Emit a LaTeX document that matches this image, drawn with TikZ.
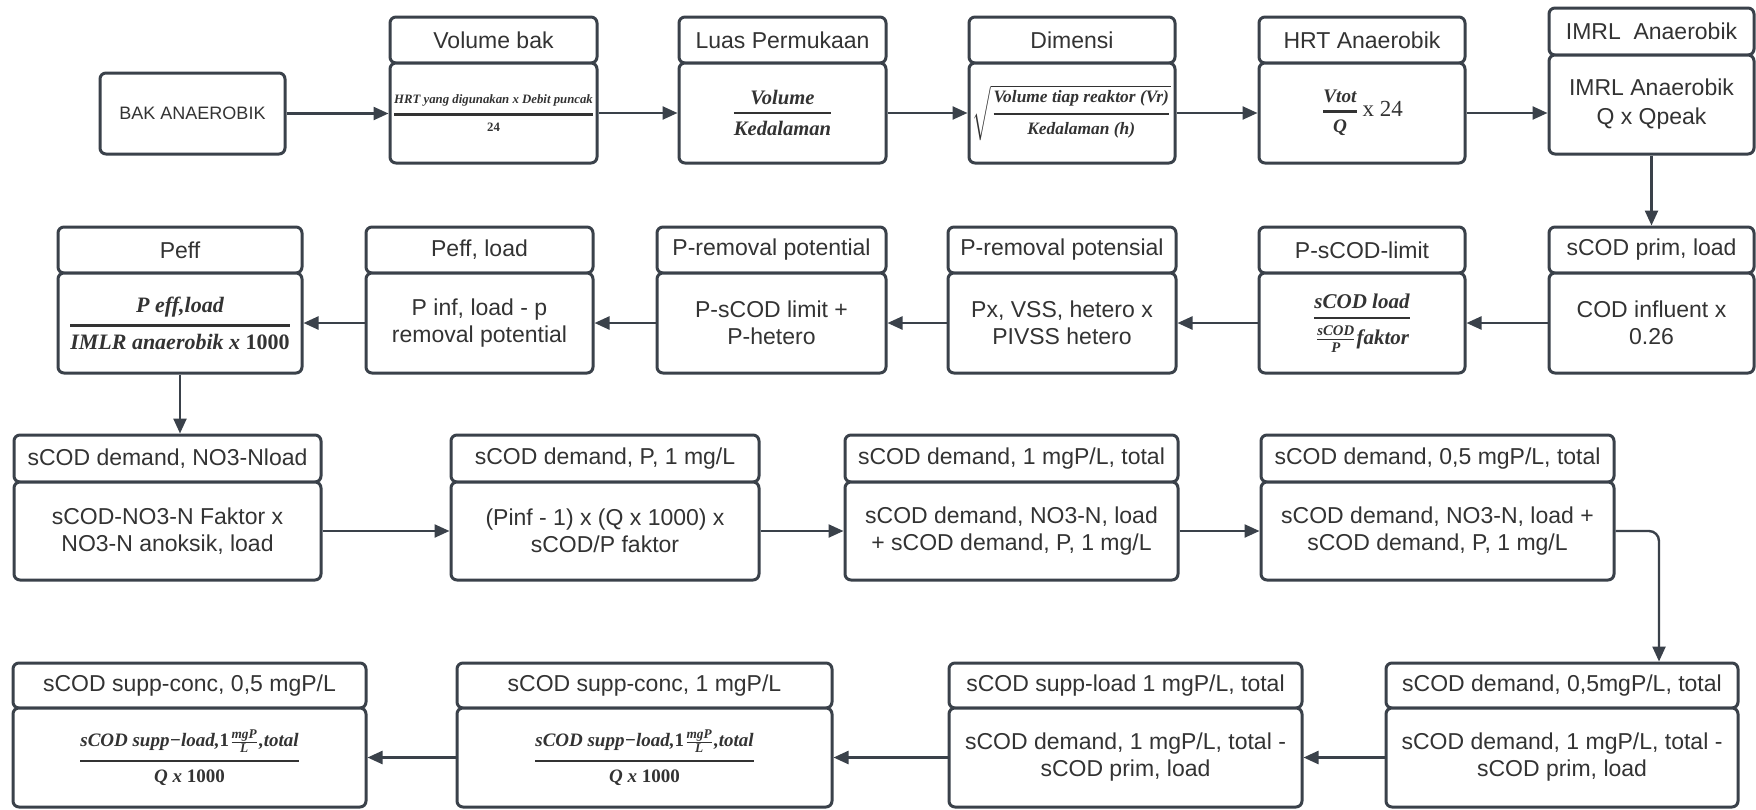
\documentclass[tikz,border=0pt]{standalone}
\usepackage{amsmath}
\usepackage{fontspec}
\setmainfont{Liberation Sans}
\newfontfamily\fmlfont{Liberation Serif}
\usetikzlibrary{arrows.meta}
\definecolor{ln}{HTML}{3A414A}
\definecolor{tx}{HTML}{333333}
\newcommand\fmi[1]{\text{\fmlfont\bfseries\itshape #1}}
\newcommand\fmu[1]{\text{\fmlfont\bfseries #1}}
\newcommand\myfrac[2]{\genfrac{}{}{1.2pt}{0}{#1}{#2}}
\tikzset{
  bx/.style={draw=ln, line width=1.5pt, rounded corners=3pt, fill=white, inner sep=0pt,
    align=center, text=tx, font=\fontsize{11.5}{13.5}\selectfont},
  arr/.style={draw=ln, line width=1.2pt, -{Triangle[length=7.5pt,width=6.5pt]}},
}
% name, xl, xr, yt, ym, yb, header, body  (pixel units, 1px = 0.5pt)
\newcommand\hbpair[8]{%
  \pgfmathsetmacro\bxw{(#3-#2)*0.5}%
  \pgfmathsetmacro\hdh{(#5-#4)*0.5}%
  \pgfmathsetmacro\bdh{(#6-#5)*0.5}%
  \node[bx, minimum width=\bxw pt, minimum height=\hdh pt] (#1h) at ({(#2+#3)/2},{(#4+#5)/2}) {#7};
  \node[bx, minimum width=\bxw pt, minimum height=\bdh pt] (#1b) at ({(#2+#3)/2},{(#5+#6)/2}) {#8};
}
\begin{document}
\begin{tikzpicture}[x=0.5pt,y=-0.5pt]
\useasboundingbox (0,0) rectangle (1756,809);
\fill[white] (0,0) rectangle (1756,809);
% Row 1
\node[bx, minimum width=92.5pt, minimum height=40.5pt, font=\fontsize{9}{11}\selectfont] (bak) at (192.5,113.5) {BAK ANAEROBIK};
\hbpair{vb}{390}{597}{17}{63}{163}{Volume bak}{{\fontsize{6.4}{8}\selectfont$\myfrac{\fmi{HRT yang digunakan x Debit puncak}}{\fmu{24}}$}}
\hbpair{lp}{679}{886}{17}{63}{163}{Luas Permukaan}{{\fontsize{10.3}{12}\selectfont$\myfrac{\fmi{Volume}}{\fmi{Kedalaman}}$}}
\hbpair{dm}{969}{1175}{17}{63}{163}{Dimensi}{{\fontsize{8.7}{10}\selectfont$\sqrt{\myfrac{\fmi{Volume tiap reaktor (Vr)}}{\fmi{Kedalaman (h)}}}$}}
\hbpair{hrt}{1259}{1465}{17}{63}{163}{HRT Anaerobik}{{\fontsize{9.6}{11}\selectfont$\myfrac{\fmi{Vtot}}{\fmi{Q}}$}\,{\fmlfont\fontsize{11.5}{13}\selectfont x 24}}
\hbpair{im}{1549}{1754}{8}{55}{154}{IMRL\ \ Anaerobik}{IMRL Anaerobik\\[1pt]Q x Qpeak}
% Row 2
\hbpair{pf}{58}{302}{227}{273}{373}{Peff}{{\fontsize{11}{13}\selectfont$\myfrac{\fmi{P eff,load}}{\fmi{IMLR anaerobik x }\fmu{1000}}$}}
\hbpair{pl}{366}{593}{227}{273}{373}{Peff, load}{P inf, load - p\\removal potential}
\hbpair{prl}{657}{886}{227}{273}{373}{P-removal potential}{P-sCOD limit +\\P-hetero}
\hbpair{prs}{948}{1176}{227}{273}{373}{P-removal potensial}{Px, VSS, hetero x\\PIVSS hetero}
\hbpair{ps}{1259}{1465}{227}{273}{373}{P-sCOD-limit}{{\fontsize{10.5}{12}\selectfont$\myfrac{\fmi{sCOD load}}{\frac{\fmi{sCOD}}{\fmi{P}}\fmi{faktor}}$}}
\hbpair{sp}{1549}{1754}{227}{273}{373}{sCOD prim, load}{COD influent x\\0.26}
% Row 3
\hbpair{na}{14}{321}{435}{482}{580}{sCOD demand, NO3-Nload}{sCOD-NO3-N Faktor x\\NO3-N anoksik, load}
\hbpair{np}{451}{759}{435}{482}{580}{sCOD demand, P, 1 mg/L}{(Pinf - 1) x (Q x 1000) x\\sCOD/P faktor}
\hbpair{da}{845}{1178}{435}{482}{580}{sCOD demand, 1 mgP/L, total}{sCOD demand, NO3-N, load\\+ sCOD demand, P, 1 mg/L}
\hbpair{db}{1261}{1614}{435}{482}{580}{sCOD demand, 0,5 mgP/L, total}{sCOD demand, NO3-N, load +\\sCOD demand, P, 1 mg/L}
% Row 4
\hbpair{ca}{13}{366}{663}{708}{807}{sCOD supp-conc, 0,5 mgP/L}{{\fontsize{9.5}{11}\selectfont$\myfrac{\fmi{sCOD supp−load,}\fmu{1}\frac{\fmi{mgP}}{\fmi{L}}\fmi{,total}}{\fmi{Q x }\fmu{1000}}$}}
\hbpair{cb}{457}{832}{663}{708}{807}{sCOD supp-conc, 1 mgP/L}{{\fontsize{9.5}{11}\selectfont$\myfrac{\fmi{sCOD supp−load,}\fmu{1}\frac{\fmi{mgP}}{\fmi{L}}\fmi{,total}}{\fmi{Q x }\fmu{1000}}$}}
\hbpair{sl}{949}{1302}{663}{708}{807}{sCOD supp-load 1 mgP/L, total}{sCOD demand, 1 mgP/L, total -\\sCOD prim, load}
\hbpair{ea}{1386}{1738}{663}{708}{807}{sCOD demand, 0,5mgP/L, total}{sCOD demand, 1 mgP/L, total -\\sCOD prim, load}
% Connectors row 1
\draw[arr] (bak.east) -- (bak.east -| vbb.west);
\draw[arr] (vbb.east) -- (lpb.west);
\draw[arr] (lpb.east) -- (dmb.west);
\draw[arr] (dmb.east) -- (hrtb.west);
\draw[arr] (hrtb.east) -- (hrtb.east -| imb.west);
\draw[arr] (imb.south) -- (sph.north);
% Row 2
\draw[arr] (spb.west) -- (psb.east);
\draw[arr] (psb.west) -- (prsb.east);
\draw[arr] (prsb.west) -- (prlb.east);
\draw[arr] (prlb.west) -- (plb.east);
\draw[arr] (plb.west) -- (pfb.east);
\draw[arr] (pfb.south) -- (pfb.south |- nah.north);
% Row 3
\draw[arr] (nab.east) -- (npb.west);
\draw[arr] (npb.east) -- (dab.west);
\draw[arr] (dab.east) -- (dbb.west);
\coordinate (bend) at (1659,531);
\draw[arr, rounded corners=5pt] (dbb.east) -- (bend) -- (bend |- eah.north);
% Row 4
\draw[arr] (eab.west) -- (slb.east);
\draw[arr] (slb.west) -- (cbb.east);
\draw[arr] (cbb.west) -- (cab.east);
\end{tikzpicture}
\end{document}
